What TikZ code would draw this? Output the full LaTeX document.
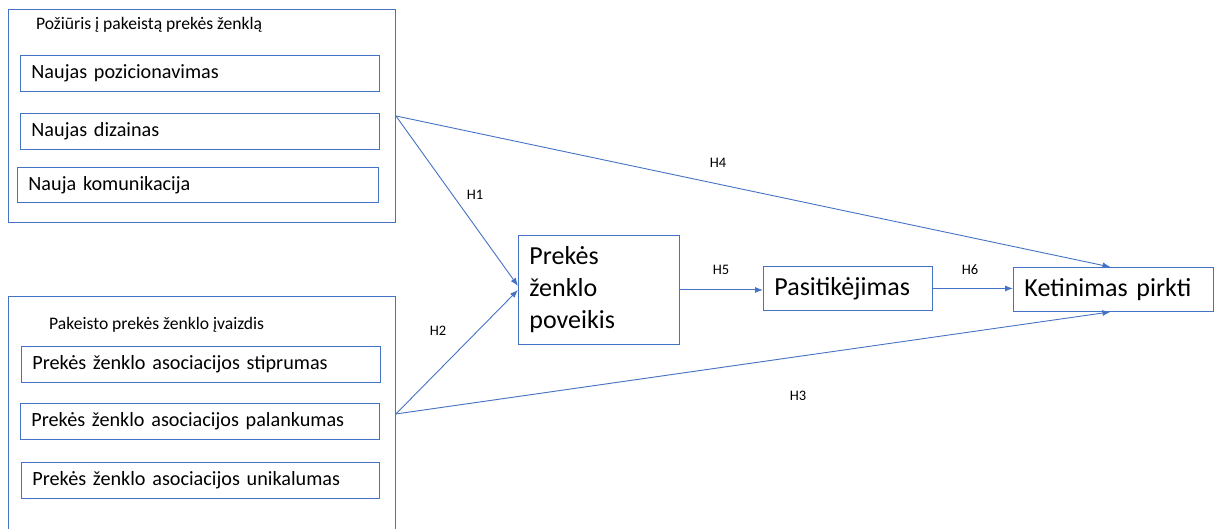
\documentclass[tikz,border=0pt]{standalone}
\usepackage{fontspec}
\setmainfont{Carlito}
\usetikzlibrary{arrows.meta}
\definecolor{lineblue}{HTML}{4472C4}
\tikzset{
  outerbox/.style={draw=lineblue, line width=0.9pt, anchor=north west, inner sep=0pt},
  itembox/.style={draw=lineblue, line width=0.9pt, anchor=north west, inner xsep=11pt, inner ysep=0pt,
    align=left, font=\fontsize{20.2}{24}\selectfont},
  bigbox/.style={draw=lineblue, line width=0.9pt, anchor=north west, inner xsep=11pt, inner ysep=0pt,
    align=left, font=\fontsize{26}{32}\selectfont},
  grouptitle/.style={anchor=west, inner sep=0pt, font=\fontsize{17.6}{21}\selectfont},
  hyp/.style={inner sep=0pt, font=\fontsize{14.5}{17}\selectfont},
  link/.style={draw=lineblue, line width=0.9pt, -{Latex[length=8pt,width=6pt]}},
}
\begin{document}
\begin{tikzpicture}[x=1pt, y=-1pt]
\useasboundingbox (0,0) rectangle (1215,529);

% group 1: attitude towards the changed brand
\node[outerbox, minimum width=387pt, minimum height=213pt] (g1) at (8,9) {};
\node[grouptitle] (t1) at (36,25) {Požiūris į pakeistą prekės ženklą};
\node[itembox, text width=337pt, minimum height=36pt] (a1) at (20,55) {Naujas pozicionavimas};
\node[itembox, text width=337pt, minimum height=36pt] (a2) at (20,113) {Naujas dizainas};
\node[itembox, text width=339pt, minimum height=35pt] (a3) at (17,167) {Nauja komunikacija};

% group 2: image of the changed brand
\node[outerbox, minimum width=387pt, minimum height=235pt] (g2) at (8,296) {};
\node[grouptitle] (t2) at (49,325) {Pakeisto prekės ženklo įvaizdis};
\node[itembox, text width=337pt, minimum height=36pt] (b1) at (21,346) {Prekės ženklo asociacijos stiprumas};
\node[itembox, text width=337pt, minimum height=36pt] (b2) at (20,403) {Prekės ženklo asociacijos palankumas};
\node[itembox, text width=336pt, minimum height=36pt] (b3) at (21,462) {Prekės ženklo asociacijos unikalumas};

% outcome constructs
\node[bigbox, text width=139pt, minimum height=109pt] (pov) at (518,235) {Prekės\\ženklo\\poveikis};
\node[bigbox, text width=147pt, minimum height=44pt] (pas) at (763,266) {Pasitikėjimas};
\node[bigbox, text width=178pt, minimum height=44pt] (ket) at (1013,267) {Ketinimas pirkti};

% hypothesised paths
\draw[link] (g1.east) -- ([yshift=4pt]pov.west);
\draw[link] (g2.east) -- (pov.west);
\draw[link] (g1.east) -- ([xshift=-3pt]ket.north);
\draw[link] (g2.east) -- ([xshift=-3pt]ket.south);
\draw[link] (pov.east) -- (pov.east -| pas.west);
\draw[link] (pas.east) -- (pas.east -| ket.west);

% hypothesis labels
\node[hyp] (h1) at (475,195) {H1};
\node[hyp] (h2) at (438,331) {H2};
\node[hyp] (h3) at (798,396) {H3};
\node[hyp] (h4) at (718,163) {H4};
\node[hyp] (h5) at (721,270) {H5};
\node[hyp] (h6) at (970,270) {H6};
\end{tikzpicture}
\end{document}
